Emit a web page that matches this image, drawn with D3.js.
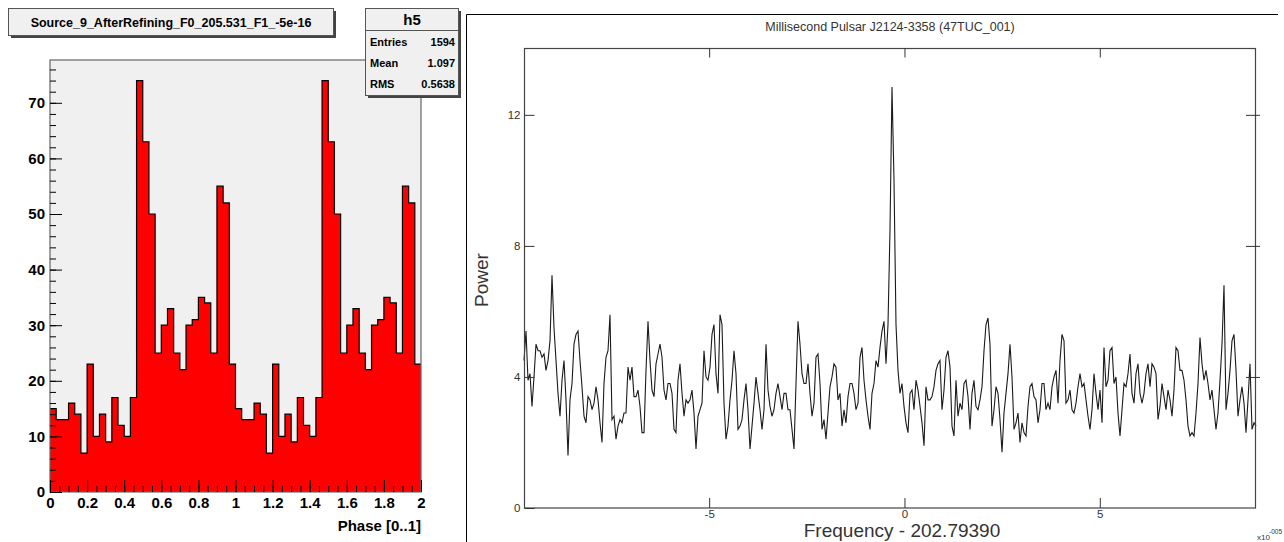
<!DOCTYPE html>
<html>
<head>
<meta charset="utf-8">
<style>
  body { margin: 0; background: #fff; }
  svg { display: block; font-family: "Liberation Sans", Arial, sans-serif; }
</style>
</head>
<body>
<svg width="1284" height="542"></svg>
<script src="https://d3js.org/d3.v7.min.js"></script>
<script>
// ---- left panel data: folded phase histogram (one turn, drawn twice) ----
var phaseCounts = [15, 13, 13, 16, 14, 7, 23, 10, 14, 9, 17, 12, 10, 17, 74,
                   63, 50, 25, 30, 33, 25, 22, 30, 31, 35, 34, 25, 55, 52, 23];
var phaseTicks = [0, 0.2, 0.4, 0.6, 0.8, 1, 1.2, 1.4, 1.6, 1.8, 2];
var countTicks = [0, 10, 20, 30, 40, 50, 60, 70];
var statRows = [["Entries", "1594"], ["Mean", "1.097"], ["RMS", "0.5638"]];

// ---- right panel data: power vs frequency offset (units of 1e-5 Hz) ----
var freqStart = -9.74, freqStep = 0.0512;
var power = [
  4.5,5.4,3.9,4.1,3.1,4.0,5.0,4.8,4.8,4.6, 4.7,4.2,4.5,5.1,7.1,5.5,4.5,3.5,2.8,3.9,
  4.5,3.3,1.6,3.3,3.8,5.0,5.3,5.4,4.5,3.7, 2.8,2.6,3.4,3.3,3.0,3.2,3.7,3.3,2.6,2.0,
  3.8,4.6,4.8,5.9,2.7,2.8,2.1,2.5,2.7,2.6, 2.9,2.9,4.3,3.9,4.3,3.4,3.4,3.6,3.1,2.3,
  2.3,4.2,5.7,4.5,3.6,3.4,4.4,4.7,5.0,4.6, 3.6,3.3,3.8,3.8,3.5,2.4,2.3,3.9,4.4,3.5,
  2.8,3.3,3.2,3.3,3.6,2.9,1.8,2.8,3.0,3.2, 4.8,4.0,3.9,4.3,
  5.3,5.6,4.1,3.5,5.9,5.6,3.2,2.1,2.5,3.3, 3.9,4.8,4.1,2.4,2.5,2.7,3.3,3.8,3.0,1.8,
  2.5,3.2,4.0,3.5,3.0,2.4,3.0,5.0,3.6,3.1, 2.8,3.0,3.5,3.8,3.4,3.0,3.5,3.5,3.0,3.0,
  2.4,1.8,3.8,5.7,5.0,4.1,3.8,3.8,4.4,3.5, 2.8,3.2,4.6,4.7,3.8,2.4,2.7,2.1,2.9,3.7,
  4.0,4.4,4.3,3.3,3.5,2.5,3.0,2.6,3.4,3.8, 3.8,3.5,3.0,3.2,4.6,4.9,3.9,3.3,2.8,2.4,
  3.5,3.8,4.5,4.3,4.9,5.4,5.7,4.4,5.6,8.5, 12.85,10.0,
  5.6,4.2,3.5,3.8,3.1,2.6,2.3,3.5,3.6,3.0, 3.9,3.6,3.1,2.6,1.9,3.7,3.3,3.3,3.4,3.7,
  4.2,4.4,4.5,3.0,3.6,4.6,4.8,4.3,2.5,2.2, 3.9,2.8,3.2,3.0,3.8,3.9,3.4,2.4,3.5,3.9,
  3.1,3.0,3.3,3.7,4.8,5.6,5.8,5.0,2.5,3.0, 3.7,3.5,2.7,1.7,2.9,3.5,4.1,5.0,4.0,2.4,
  2.6,2.9,2.0,2.6,2.3,2.2,3.1,3.7,3.8,3.4, 3.3,2.6,3.0,3.8,3.8,3.0,3.2,3.0,3.7,4.0,
  4.2,3.2,4.5,5.3,5.1,3.2,3.3,3.6,3.0,2.9,
  3.2,3.7,4.1,3.7,3.8,3.3,2.8,2.4,3.0,4.1, 3.5,3.0,3.6,2.6,4.9,3.7,3.9,4.8,4.9,3.8,
  4.0,2.9,2.2,3.0,3.8,3.7,4.1,4.7,3.5,3.2, 4.1,4.4,3.5,3.2,3.5,4.1,4.4,3.7,4.4,4.3,
  4.1,2.7,3.1,3.8,3.4,3.0,3.6,3.3,2.8,3.6, 4.9,4.8,4.2,4.2,3.9,3.3,2.5,2.2,2.3,2.2,
  2.9,3.8,5.2,4.4,3.9,4.2,3.8,3.3,3.6,3.0, 2.4,2.9,3.9,5.0,6.8,3.0,3.5,4.2,5.1,5.3,
  4.2,2.8,3.3,3.7,3.2,2.3,3.3,4.4,2.4,2.6, 2.5
];
var freqTicks = [-5, 0, 5];
var powerTicks = [0, 4, 8, 12];

var svg = d3.select("svg");
var plain = function(d) { return String(d); };

// ================= left: ROOT style histogram =================
var binCounts = phaseCounts.concat(phaseCounts);
var binW = 2 / binCounts.length;
var hx = d3.scaleLinear().domain([0, 2]).range([50, 421]);
var hy = d3.scaleLinear().domain([0, d3.max(binCounts) * 1.05]).range([492, 60]);

var left = svg.append("g");
left.append("rect")
  .attr("x", hx(0)).attr("y", hy.range()[1])
  .attr("width", hx(2) - hx(0)).attr("height", hy.range()[0] - hy.range()[1])
  .attr("fill", "#f0f0f0");

var steps = binCounts.map(function(d, i) { return [i * binW, d]; });
steps.push([2, binCounts[binCounts.length - 1]]);

left.append("path")
  .attr("d", d3.area().curve(d3.curveStepAfter)
    .x(function(d) { return hx(d[0]); })
    .y0(hy(0)).y1(function(d) { return hy(d[1]); })(steps))
  .attr("fill", "#ff0000");

left.append("path")
  .attr("d", d3.line().curve(d3.curveStepAfter)
    .x(function(d) { return hx(d[0]); })
    .y(function(d) { return hy(d[1]); })(steps))
  .attr("fill", "none").attr("stroke", "#000").attr("stroke-width", 1.2);

left.append("rect")
  .attr("x", hx(0)).attr("y", hy.range()[1])
  .attr("width", hx(2) - hx(0)).attr("height", hy.range()[0] - hy.range()[1])
  .attr("fill", "none").attr("stroke", "#666").attr("stroke-width", 1.2);

// minor + major ticks, pointing inwards
left.append("g").attr("transform", "translate(" + hx(0) + ",0)")
  .call(d3.axisLeft(hy).tickValues(d3.range(0, 78, 2)).tickSize(-6).tickFormat(""))
  .call(function(g) { g.select(".domain").remove(); });
left.append("g").attr("class", "hax").attr("transform", "translate(" + hx(0) + ",0)")
  .call(d3.axisLeft(hy).tickValues(countTicks).tickSize(-12).tickPadding(5).tickFormat(plain))
  .call(function(g) { g.select(".domain").remove(); });

left.append("g").attr("transform", "translate(0," + hy(0) + ")")
  .call(d3.axisBottom(hx).tickValues(d3.range(0, 2.001, 0.05)).tickSize(-6).tickFormat(""))
  .call(function(g) { g.select(".domain").remove(); });
left.append("g").attr("class", "hax").attr("transform", "translate(0," + hy(0) + ")")
  .call(d3.axisBottom(hx).tickValues(phaseTicks).tickSize(-12).tickPadding(5).tickFormat(plain))
  .call(function(g) { g.select(".domain").remove(); });

svg.selectAll(".hax text")
  .attr("font-family", "'Liberation Sans', Arial, sans-serif")
  .attr("font-size", 15).attr("font-weight", "bold").attr("fill", "#000");
svg.selectAll("g.tick line").attr("stroke", "#000");

left.append("text")
  .attr("x", hx(2)).attr("y", 531)
  .attr("text-anchor", "end").attr("font-size", 15).attr("font-weight", "bold")
  .text("Phase [0..1]");

// title pave
left.append("rect").attr("x", 11).attr("y", 11).attr("width", 325).attr("height", 27).attr("fill", "#444");
left.append("rect").attr("x", 8.5).attr("y", 8.5).attr("width", 325).attr("height", 27)
  .attr("fill", "#f0f0f0").attr("stroke", "#555");
left.append("text").attr("x", 171).attr("y", 27)
  .attr("text-anchor", "middle").attr("font-size", 12.5).attr("font-weight", "bold")
  .text("Source_9_AfterRefining_F0_205.531_F1_-5e-16");

// stats pave
left.append("rect").attr("x", 368).attr("y", 11).attr("width", 93).attr("height", 87).attr("fill", "#444");
left.append("rect").attr("x", 365.5).attr("y", 8.5).attr("width", 93).attr("height", 87)
  .attr("fill", "#f0f0f0").attr("stroke", "#555");
left.append("line").attr("x1", 365.5).attr("x2", 458.5).attr("y1", 30.5).attr("y2", 30.5).attr("stroke", "#555");
left.append("text").attr("x", 412).attr("y", 25)
  .attr("text-anchor", "middle").attr("font-size", 15).attr("font-weight", "bold").text("h5");
statRows.forEach(function(r, i) {
  var yy = 46 + i * 21;
  left.append("text").attr("x", 370).attr("y", yy)
    .attr("font-size", 11).attr("font-weight", "bold").text(r[0]);
  left.append("text").attr("x", 455).attr("y", yy).attr("text-anchor", "end")
    .attr("font-size", 11).attr("font-weight", "bold").text(r[1]);
});

// ================= right: power spectrum =================
var right = svg.append("g");
right.append("path").attr("d", "M466.5,542V14.5H1278")
  .attr("fill", "none").attr("stroke", "#000");

var fx = d3.scaleLinear()
  .domain([freqStart, freqStart + freqStep * (power.length - 1)])
  .range([524, 1256]);
var py = d3.scaleLinear().domain([0, 14.04]).range([508, 48]);

right.append("text").attr("x", 890).attr("y", 31).attr("text-anchor", "middle")
  .attr("font-family", "Arial, 'Liberation Sans', sans-serif")
  .attr("font-size", 12.5).attr("fill", "#333")
  .text("Millisecond Pulsar J2124-3358 (47TUC_001)");

right.append("path")
  .datum(power)
  .attr("d", d3.line()
    .x(function(d, i) { return fx(freqStart + i * freqStep); })
    .y(function(d) { return py(d); }))
  .attr("fill", "none").attr("stroke", "#1a1a1a").attr("stroke-width", 1.1);

right.append("rect")
  .attr("x", 524.5).attr("y", 48.5).attr("width", 731).attr("height", 459.5)
  .attr("fill", "none").attr("stroke", "#444").attr("stroke-width", 1.2);

right.append("g").attr("class", "pax").attr("transform", "translate(524.5,0)")
  .call(d3.axisLeft(py).tickValues(powerTicks).tickSize(-10).tickPadding(4).tickFormat(plain))
  .call(function(g) { g.select(".domain").remove(); });
right.append("g").attr("transform", "translate(1246,0)")
  .call(d3.axisRight(py).tickValues(powerTicks.slice(1)).tickSize(14).tickFormat(""))
  .call(function(g) { g.select(".domain").remove(); });
right.append("g").attr("class", "pax").attr("transform", "translate(0,508)")
  .call(d3.axisBottom(fx).tickValues(freqTicks).tickSize(-10).tickPadding(2).tickFormat(plain))
  .call(function(g) { g.select(".domain").remove(); });
right.append("g").attr("transform", "translate(0,48.5)")
  .call(d3.axisTop(fx).tickValues(freqTicks).tickSize(-9).tickFormat(""))
  .call(function(g) { g.select(".domain").remove(); });

right.selectAll(".pax text")
  .attr("font-family", "Arial, 'Liberation Sans', sans-serif")
  .attr("font-size", 11.5).attr("fill", "#333");
right.selectAll("g.tick line").attr("stroke", "#333");

right.append("text")
  .attr("transform", "translate(488,280) rotate(-90)")
  .attr("text-anchor", "middle").attr("font-size", 19).attr("fill", "#333")
  .text("Power");
right.append("text").attr("x", 902).attr("y", 537).attr("text-anchor", "middle")
  .attr("font-size", 19).attr("fill", "#333")
  .text("Frequency - 202.79390");
right.append("text").attr("x", 1257).attr("y", 540).attr("font-size", 8).attr("fill", "#333").text("x10");
right.append("text").attr("x", 1269).attr("y", 534).attr("font-size", 6.5).attr("fill", "#333").text("-005");
</script>
</body>
</html>
